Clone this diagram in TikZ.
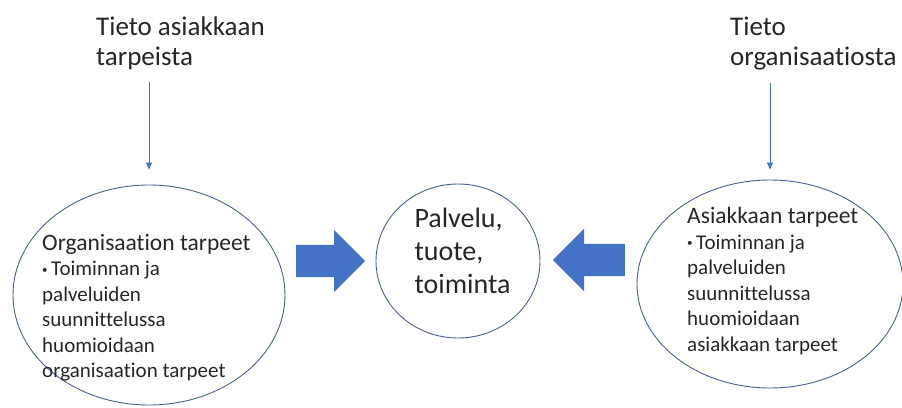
\documentclass[tikz,border=0pt]{standalone}
\usepackage{fontspec}
\setmainfont{Carlito}[Ligatures={NoCommon,NoDiscretionary,NoContextual}]
\usepackage{tikz}
\usetikzlibrary{arrows.meta}
\usetikzlibrary{shapes.geometric}
\usetikzlibrary{shapes.arrows}

\definecolor{accent}{HTML}{4472C4}
\definecolor{rim}{HTML}{44618F}

\newcommand{\dotitem}{\raisebox{2.5pt}{\fontsize{11}{11}\selectfont\textbullet}\,}

\begin{document}
\begin{tikzpicture}[x=1pt,y=-1pt,
    rimshape/.style={draw=rim, line width=0.9pt, ellipse, inner sep=0pt},
    toplabel/.style={anchor=north west, inner sep=0pt, align=left, text=black!85,
        font=\fontsize{27}{30}\selectfont},
    bodytext/.style={anchor=north west, inner sep=0pt, align=left, text=black!85,
        font=\fontsize{21}{25.5}\selectfont},
    bigarrow/.style={single arrow, fill=accent, draw=none, inner xsep=0pt, inner ysep=16pt,
        minimum width=62pt, single arrow head extend=15pt, anchor=tail},
    infoarrow/.style={draw=accent, line width=0.7pt,
        -{Triangle[width=6pt,length=7pt]}}]
        \useasboundingbox (0,0) rectangle (902,407);

        % ellipses
        \node[rimshape, minimum width=272pt, minimum height=220pt] (org) at (149,295) {};
        \node[rimshape, minimum width=266pt, minimum height=208pt] (asi) at (770,284) {};
        \node[rimshape, minimum width=164pt, minimum height=154pt, align=left,
            text=black!85, font=\fontsize{28}{33}\selectfont] (ctr) at (458,261)
            {\hspace*{9pt}Palvelu,\\\hspace*{9pt}tuote,\\\hspace*{9pt}toiminta\\[-12pt]};

        % top labels
        \node[toplabel] (tietoA) at (96,17) {Tieto asiakkaan\\tarpeista};
        \node[toplabel] (tietoO) at (730,17) {Tieto\\organisaatiosta};

        % texts in ellipses
        \node[bodytext] (orgtext) at (42,234)
            {{\fontsize{23.5}{27}\selectfont Organisaation tarpeet}\\
             \dotitem Toiminnan ja\\palveluiden\\suunnittelussa\\huomioidaan\\organisaation tarpeet};
        \node[bodytext] (asitext) at (687,207)
            {{\fontsize{23.5}{26}\selectfont Asiakkaan tarpeet}\\
             \dotitem Toiminnan ja\\palveluiden\\suunnittelussa\\huomioidaan\\asiakkaan tarpeet};

        % block arrows
        \node[bigarrow, minimum height=69pt] (arrowL) at (296,261) {};
        \node[bigarrow, minimum height=72pt, shape border rotate=180] (arrowR) at (625,260) {};

        % info arrows
        \draw[infoarrow, shorten <=12pt] (tietoA.south -| org.north) -- ([yshift=15pt]org.north);
        \draw[infoarrow, shorten <=12pt] (tietoO.south -| asi.north) -- ([yshift=10pt]asi.north);
    \end{tikzpicture}
\end{document}
